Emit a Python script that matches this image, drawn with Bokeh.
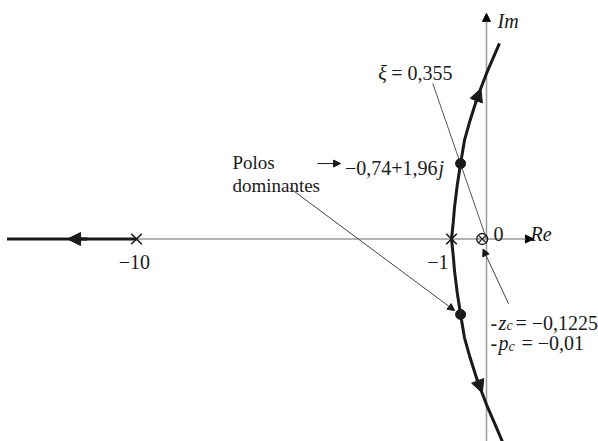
from bokeh.plotting import figure
from bokeh.models import Range1d, Arrow, NormalHead
from bokeh.core.properties import value
from bokeh.embed import file_html
from bokeh.resources import INLINE
import numpy as np

# Open-loop poles / compensator singularities (s-plane)
poles_re = [-10.0, -1.0]
poles_im = [0.0, 0.0]
zc = -0.1225          # compensator zero  (-z_c)
pc = -0.01            # compensator pole  (-p_c)
dom_re = [-0.74, -0.74]   # dominant closed-loop poles
dom_im = [1.96, -1.96]
zeta = 0.355

# Upper complex branch of the root locus leaving the pole at -1
branch_re = [-1.0, -0.95, -0.914, -0.837, -0.74, -0.63, -0.47, -0.26, 0.0, 0.37]
branch_im = [0.0, 0.43, 0.82, 1.39, 1.96, 2.56, 3.08, 3.68, 4.30, 5.08]
# Real-axis branch leaving -10 towards -infinity
real_branch_re = [-10.0, -13.7]

FONT = value("Liberation Serif")
INK = "#1a1a1a"

p = figure(width=598, height=441, x_range=Range1d(-13.886, 3.2),
           y_range=Range1d(-5.26, 6.195), output_backend="svg",
           toolbar_location=None, min_border=0,
           x_axis_type=None, y_axis_type=None)
p.outline_line_color = None
p.background_fill_color = "white"

# s-plane axes
p.line([-10.0, 1.30], [0, 0], line_color="#9a9a9a", line_width=1.5)
p.line([0, 0], [-5.4, 5.75], line_color="#9a9a9a", line_width=1.5)
p.add_layout(Arrow(x_start=1.1, y_start=0, x_end=1.34, y_end=0,
                   line_color="#9a9a9a", line_width=1.5,
                   end=NormalHead(size=8, fill_color="black", line_color="black")))
p.add_layout(Arrow(x_start=0, y_start=5.6, x_end=0, y_end=5.86,
                   line_color="#9a9a9a", line_width=1.5,
                   end=NormalHead(size=8, fill_color="black", line_color="black")))

# constant damping line through the dominant poles
r = 4.32
p.line([0, -r * zeta], [0, r * np.sqrt(1 - zeta ** 2)], line_color="#555555", line_width=1)

# root locus branches
lw = 3
p.line(branch_re, branch_im, line_color=INK, line_width=lw)
low_re = branch_re + [0.47]
low_im = [-v for v in branch_im] + [-5.3]
p.line(low_re, low_im, line_color=INK, line_width=lw)
p.line(real_branch_re, [0, 0], line_color=INK, line_width=lw)

# direction arrows on the branches
def head(x0, y0, x1, y1, size=13):
    p.add_layout(Arrow(x_start=x0, y_start=y0, x_end=x1, y_end=y1,
                       line_color=INK, line_width=lw,
                       end=NormalHead(size=size, fill_color=INK, line_color=INK)))

head(-0.31, 3.55, -0.16, 3.91)
head(-0.27, -3.64, -0.12, -4.0)
head(-11.4, 0, -11.97, 0)

# poles, zero and dominant poles
p.scatter(poles_re, poles_im, marker="x", size=15, line_color=INK, line_width=1.6)
p.scatter([zc], [0], marker="circle_x", size=11, line_color=INK, line_width=1.3,
          fill_color=None)
p.scatter(dom_re, dom_im, marker="circle", size=10, fill_color=INK, line_color=INK)

# annotation pointers
def pointer(x0, y0, x1, y1, size=7, color="#444444"):
    p.add_layout(Arrow(x_start=x0, y_start=y0, x_end=x1, y_end=y1,
                       line_color=color, line_width=1,
                       end=NormalHead(size=size, fill_color=INK, line_color=INK)))

pointer(-5.63, 1.33, -0.91, -1.86)
pointer(0.63, -1.68, -0.10, -0.26)
pointer(-4.83, 1.96, -4.17, 1.96, size=7, color=INK)

def label(x, y, s, size="20px", italic=False, align="left"):
    p.text(x=[x], y=[y], text=[s], text_font=FONT, text_font_size=size,
           text_font_style="italic" if italic else "normal",
           text_align=align, text_baseline="alphabetic", text_color=INK)

label(0.314, 5.66, "Im", italic=True)
label(1.257, 0.14, "Re", italic=True)
label(0.2, 0.14, "0")
label(-10.51, -0.61, "−10")
label(-1.086, -0.61, "−1", align="right")
label(-3.09, 4.30, "ξ", italic=True)
label(-2.72, 4.30, "= 0,355")
label(-1.40, 1.84, "−0,74+1,96", align="right")
label(-1.37, 1.84, "j", italic=True)
label(-7.26, 1.99, "Polos", size="19px")
label(-7.26, 1.39, "dominantes", size="19px")
label(0.114, -2.17, "-")
label(0.343, -2.17, "z", italic=True)
label(0.571, -2.25, "c", size="14px", italic=True)
label(0.829, -2.17, "= −0,1225")
label(0.114, -2.69, "-")
label(0.343, -2.69, "p", italic=True)
label(0.629, -2.79, "c", size="14px", italic=True)
label(1.0, -2.69, "= −0,01")

open("out.html", "w").write(file_html(p, INLINE))
